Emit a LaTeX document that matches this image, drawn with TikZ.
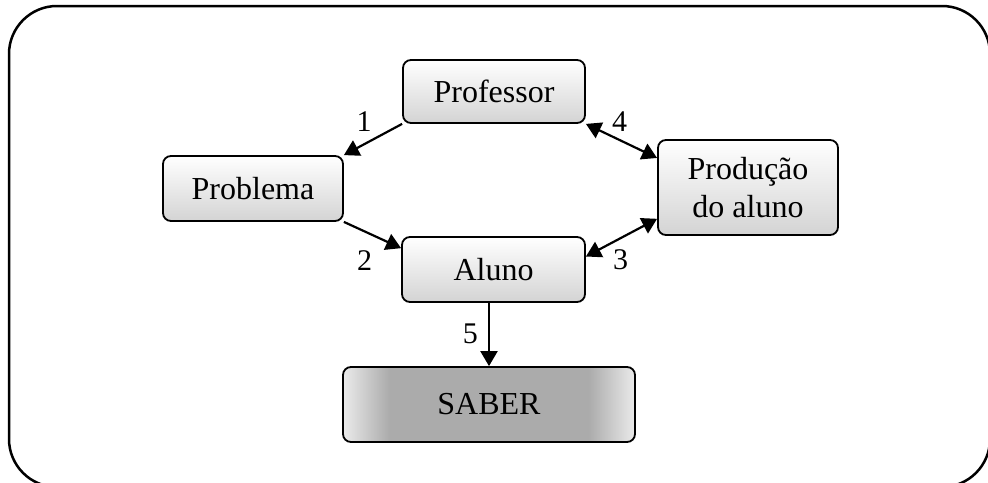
\documentclass[tikz,border=0pt]{standalone}
\usepackage{fontspec}
\setmainfont{Liberation Serif}
\usetikzlibrary{positioning}
\usetikzlibrary{arrows.meta}
\pgfdeclarehorizontalshading{saberfill}{100bp}{color(0bp)=(black!8); color(25bp)=(black!8);
  color(33bp)=(black!33); color(67bp)=(black!33); color(75bp)=(black!8); color(100bp)=(black!8)}

\begin{document}
\begin{tikzpicture}[x=1pt, y=-1pt,
    caixa/.style={draw, line width=1.8pt, rounded corners=8pt, inner sep=0pt,
      top color=white, bottom color=black!17, align=center,
      font=\fontsize{32}{38}\selectfont},
    seta/.style={line width=2.2pt, -{Triangle[length=15pt,width=17pt]}},
    dupla/.style={line width=2.2pt, {Triangle[length=15pt,width=17pt]}-{Triangle[length=15pt,width=17pt]}},
    num/.style={font=\fontsize{30}{34}\selectfont, inner sep=2pt}]
              \useasboundingbox (0,0) rectangle (988,482);
              \draw[line width=2.5pt, rounded corners=48pt] (9,6) rectangle (990,487);

              % Caixas
              \node[caixa, minimum width=182pt, minimum height=63pt] (professor) at (494,91.5) {Professor};
              \node[caixa, minimum width=180pt, minimum height=65pt] (problema) at (253,188.5) {Problema};
              \node[caixa, minimum width=180pt, minimum height=95pt] (producao) at (748,187.5) {Produção\\do aluno};
              \node[caixa, minimum width=183pt, minimum height=65pt] (aluno) at (493.5,269.5) {Aluno};
              \node[caixa, minimum width=292pt, minimum height=75pt, shading=saberfill] (saber) at (489,404.5) {SABER};

              % Setas
              \draw[seta] (professor.south west) -- (problema.north east) node[num, midway, above=5pt, xshift=-9pt] {1};
              \draw[seta] (problema.south east) -- (aluno.167) node[num, midway, below=12pt, xshift=-8pt] {2};
              \draw[dupla] (producao.199) -- (aluno.8) node[num, midway, below=9pt, xshift=-1pt] {3};
              \draw[dupla] (professor.south east) -- (producao.162) node[num, midway, above=6pt, xshift=-2pt] {4};
              \draw[seta] (saber.north |- aluno.south) -- (saber.north) node[num, midway, left=8pt, yshift=1pt] {5};
            \end{tikzpicture}
\end{document}
